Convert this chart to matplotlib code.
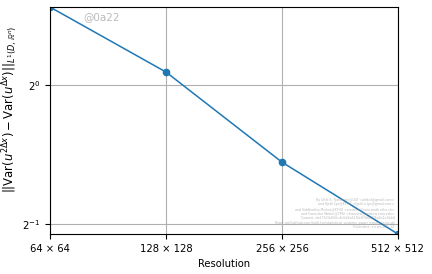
import matplotlib
matplotlib.use("Agg")
import matplotlib.pyplot as plt
import numpy as np

resolutions = [64, 128, 256, 512]
tick_labels = ["64 × 64", "128 × 128", "256 × 256", "512 × 512"]
errors = [1.475, 1.067, 0.681, 0.476]

plt.rcParams['font.size'] = 7.2

fig = plt.figure(figsize=(4.32, 2.74), dpi=100)
ax = fig.add_axes([0.116, 0.146, 0.805, 0.828])
ax.plot(resolutions, errors, "-o", color="#1f77b4", markersize=4.5, linewidth=1.1)
ax.set_xscale("log", base=2)
ax.set_yscale("log", base=2)
ax.set_xlim(64, 512)
ax.set_ylim(min(errors), max(errors))
ax.set_xticks(resolutions)
ax.set_xticklabels(tick_labels)
ax.xaxis.set_minor_locator(matplotlib.ticker.NullLocator())
ax.yaxis.set_minor_locator(matplotlib.ticker.NullLocator())
ax.grid(True, color="#b0b0b0", linewidth=0.8)
ax.set_xlabel("Resolution")
ax.set_ylabel(r"$||\mathrm{Var}(u^{2\Delta x})-\mathrm{Var}(u^{\Delta x})||_{L^1(D,\mathbb{R}^n)}$",
              fontsize=8.4)
ax.yaxis.set_label_coords(-0.088, 0.55)

ax.text(0.095, 0.955, "@0a22", transform=ax.transAxes, color="#bbbbbb",
        fontsize=7.5, va="center", ha="left")

info = ("By Ulrik S. Fjordholm@UiO <ulriksf@gmail.com>\n"
        "and Kjetil Lye@ETHZ <kjetil.o.lye@gmail.com>\n"
        "and Siddhartha Mishra@ETHZ <smishra@sam.math.ethz.ch>\n"
        "and Franziska Weber@CMU <franzisw@andrew.cmu.edu>\n"
        "Commit: da17624d5f0c4e5d9a61f2e87b6d3f8a0c1e2b4d\n"
        "Repo: git@github.com:kjetil-lye/statistical_systems_paper_experiments.git\n"
        "Hostname: eu-ms-001-14")
ax.text(0.99, 0.02, info, transform=ax.transAxes, color="#999999",
        fontsize=2.3, ha="right", va="bottom", alpha=0.7)

fig.savefig("out.png", dpi=100)
